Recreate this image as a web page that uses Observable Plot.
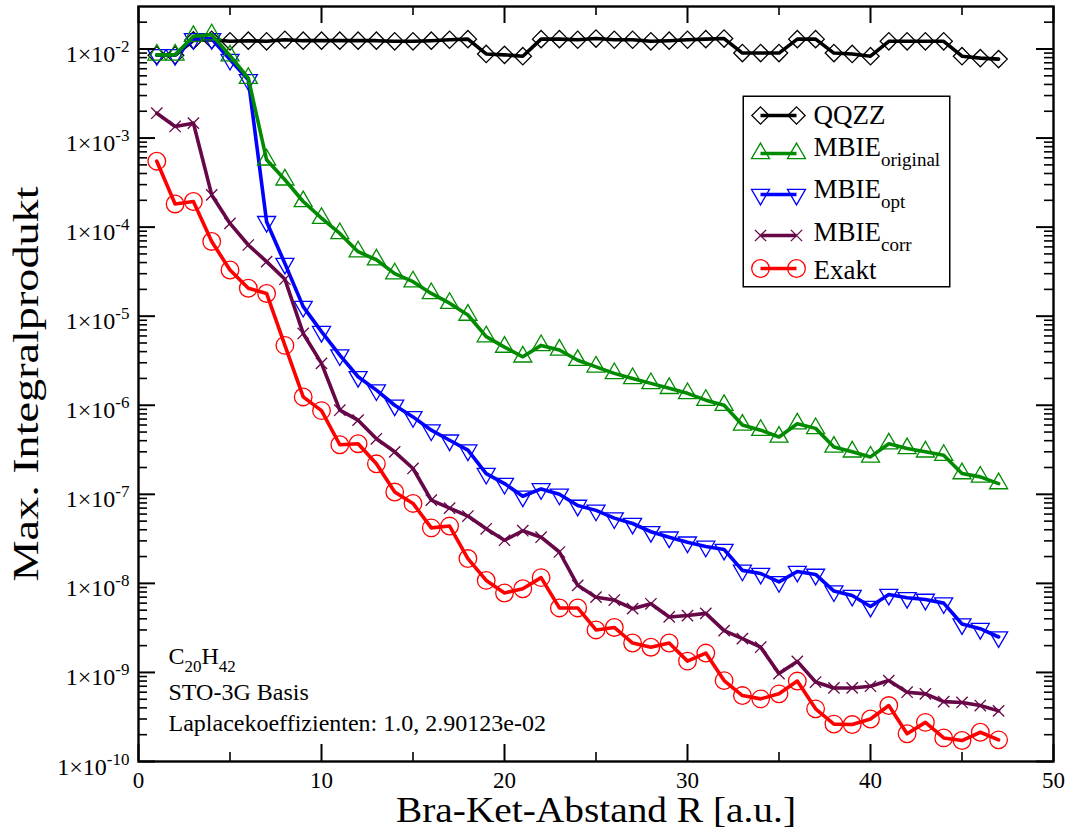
<!DOCTYPE html>
<html><head><meta charset="utf-8">
<script src="https://cdn.jsdelivr.net/npm/d3@7"></script>
<script src="https://cdn.jsdelivr.net/npm/@observablehq/plot@0.6"></script>
<style>
body{margin:0;background:#fff;}
#wrap{position:relative;width:1070px;height:833px;}
#legend{position:absolute;left:742px;top:95px;}
svg text{font-family:'Liberation Serif','Times New Roman',Times,serif !important;}
</style></head><body>
<div id="wrap"><div id="chart"></div><div id="legend"></div></div>
<script>
// ---------- data ----------
const R = d3.range(1, 48);
const qqzz = [0.0085,0.0085,0.0125,0.0127,0.0122,0.0124,0.0122,0.0127,0.0124,0.0124,
  0.0124,0.0124,0.0124,0.0122,0.0122,0.0124,0.0127,0.0129,0.0088,0.0086,
  0.0083,0.0129,0.0129,0.0127,0.0131,0.0127,0.0127,0.0122,0.0124,0.0127,
  0.0129,0.0131,0.0090,0.0090,0.0090,0.0129,0.0129,0.0090,0.0088,0.0083,
  0.0122,0.0122,0.0122,0.0122,0.0083,0.0079,0.0077];
const mbieOriginal = [0.0086,0.0086,0.0139,0.0145,0.0084,0.0047,5.7e-4,3.4e-4,1.94e-4,1.26e-4,
  8.5e-5,5.3e-5,4.3e-5,3.0e-5,2.44e-5,1.8e-5,1.4e-5,1.03e-5,5.9e-6,4.5e-6,
  3.5e-6,4.7e-6,4.17e-6,3.2e-6,2.7e-6,2.28e-6,2.0e-6,1.76e-6,1.55e-6,1.36e-6,
  1.14e-6,1.0e-6,6.0e-7,5.25e-7,4.4e-7,6.2e-7,5.5e-7,3.4e-7,3.0e-7,2.63e-7,
  3.7e-7,3.27e-7,3.0e-7,2.75e-7,1.71e-7,1.57e-7,1.32e-7];
const mbieOpt = [0.0086,0.0086,0.013,0.013,0.0076,0.0045,1.15e-4,3.9e-5,1.28e-5,6.7e-6,
  3.66e-6,2.09e-6,1.48e-6,1.0e-6,7.4e-7,5.25e-7,4.05e-7,3.13e-7,1.71e-7,1.32e-7,
  9.5e-8,1.15e-7,1.0e-7,7.5e-8,6.6e-8,5.4e-8,4.7e-8,3.8e-8,3.3e-8,2.9e-8,
  2.6e-8,2.4e-8,1.4e-8,1.29e-8,1.04e-8,1.36e-8,1.26e-8,8.2e-9,7.3e-9,5.5e-9,
  7.5e-9,6.9e-9,6.6e-9,6.0e-9,3.5e-9,3.1e-9,2.5e-9];
const mbieCorr = [1.9e-3,1.35e-3,1.47e-3,2.3e-4,1.1e-4,6.3e-5,4.1e-5,2.6e-5,6.4e-6,2.95e-6,
  8.8e-7,6.8e-7,4.2e-7,3.0e-7,1.95e-7,8.6e-8,7.0e-8,5.7e-8,4.1e-8,3.05e-8,
  3.9e-8,3.3e-8,2.25e-8,9.5e-9,7.0e-9,6.5e-9,5.2e-9,5.9e-9,4.2e-9,4.35e-9,
  4.6e-9,2.95e-9,2.4e-9,1.92e-9,9.7e-10,1.33e-9,7.8e-10,6.7e-10,6.7e-10,7.0e-10,
  8.1e-10,6.0e-10,5.75e-10,4.7e-10,4.6e-10,4.25e-10,3.7e-10];
const exakt = [5.5e-4,1.82e-4,1.94e-4,6.9e-5,3.3e-5,2.06e-5,1.8e-5,4.7e-6,1.24e-6,8.7e-7,
  3.6e-7,3.7e-7,2.2e-7,1.06e-7,7.9e-8,4.2e-8,4.4e-8,1.9e-8,1.08e-8,7.8e-9,
  8.7e-9,1.16e-8,5.3e-9,5.3e-9,3.0e-9,3.2e-9,2.14e-9,1.92e-9,2.14e-9,1.34e-9,
  1.65e-9,8.1e-10,5.5e-10,5.05e-10,5.75e-10,8.0e-10,3.9e-10,2.63e-10,2.6e-10,3.0e-10,
  4.25e-10,2.05e-10,2.75e-10,1.84e-10,1.72e-10,2.13e-10,1.75e-10];

const seriesKeys = ["QQZZ", "MBIE_original", "MBIE_opt", "MBIE_corr", "Exakt"];
const legendLabels = ["QQZZ", "MBIE_{original}", "MBIE_{opt}", "MBIE_{corr}", "Exakt"];
const xTicksMajor = [0, 10, 20, 30, 40, 50];
const xTicksMinor = [5, 15, 25, 35, 45];
const yDecades = [-10, -9, -8, -7, -6, -5, -4, -3, -2];
const xTitle = "Bra-Ket-Abstand R [a.u.]";
const yTitle = "Max. Integralprodukt";
const annotationLines = ["C_{20}H_{42}", "STO-3G Basis", "Laplacekoeffizienten: 1.0, 2.90123e-02"];

// ---------- styles ----------
const FONT = "'Liberation Serif','Times New Roman',Times,serif";
const W = 1070, H = 833, ML = 138, MR = 17, MT = 6, MB = 72;
const FW = W - ML - MR, FH = H - MT - MB;
const seriesStyle = {
  "QQZZ":          {color: "#000000", symbol: "diamond2",  r: 7.8, rotate: 0,   values: qqzz},
  "MBIE_original": {color: "#008b00", symbol: "triangle2", r: 8.6, rotate: 0,   values: mbieOriginal},
  "MBIE_opt":      {color: "#0000ff", symbol: "triangle2", r: 8.6, rotate: 180, values: mbieOpt},
  "MBIE_corr":     {color: "#670748", symbol: "times",     r: 5.2, rotate: 0,   values: mbieCorr},
  "Exakt":         {color: "#ff0000", symbol: "circle",    r: 8.8, rotate: 0,   values: exakt}
};
const drawOrder = ["QQZZ", "MBIE_opt", "MBIE_original", "MBIE_corr", "Exakt"];

const yMajor = yDecades.map(e => Math.pow(10, e));
const yMinor = yDecades.flatMap(e => d3.range(2, 10).map(k => k * Math.pow(10, e))).filter(v => v < 0.0299);

function seriesData(key) {
  return R.map((r, i) => ({R: r, v: seriesStyle[key].values[i], key}));
}

const seriesMarks = drawOrder.flatMap(key => {
  const s = seriesStyle[key];
  const data = seriesData(key);
  return [
    Plot.line(data, {x: "R", y: "v", stroke: s.color, strokeWidth: 3.6}),
    Plot.dot(data, {x: "R", y: "v", stroke: s.color, fill: "none", symbol: s.symbol, r: s.r, rotate: s.rotate, strokeWidth: 1.3})
  ];
});

const tickMarks = [
  Plot.tickX(xTicksMajor, {x: d => d, insetTop: FH - 17, strokeWidth: 2}),
  Plot.tickX(xTicksMinor, {x: d => d, insetTop: FH - 9, strokeWidth: 1.6}),
  Plot.tickX(xTicksMajor, {x: d => d, insetBottom: FH - 17, strokeWidth: 2}),
  Plot.tickX(xTicksMinor, {x: d => d, insetBottom: FH - 9, strokeWidth: 1.6}),
  Plot.tickY(yMajor, {y: d => d, insetRight: FW - 17, strokeWidth: 2}),
  Plot.tickY(yMinor, {y: d => d, insetRight: FW - 9, strokeWidth: 1.6}),
  Plot.tickY(yMajor, {y: d => d, insetLeft: FW - 17, strokeWidth: 2}),
  Plot.tickY(yMinor, {y: d => d, insetLeft: FW - 9, strokeWidth: 1.6})
];

const textMarks = [
  Plot.text(yMajor, {y: d => d, frameAnchor: "left", dx: -9, dy: 13, textAnchor: "end", lineAnchor: "bottom",
    fontSize: 24, text: d => `1×10^{${Math.round(Math.log10(d))}}`}),
  Plot.text(xTicksMajor, {x: d => d, frameAnchor: "bottom", dy: 26, lineAnchor: "bottom", fontSize: 23, text: d => String(d)}),
  Plot.text([xTitle], {text: d => d, frameAnchor: "bottom", dx: -200, dy: 60.7, textAnchor: "start", lineAnchor: "bottom", fontSize: 36}),
  Plot.text([yTitle], {text: d => d, frameAnchor: "left", dx: -101, dy: 197.5, rotate: -90, textAnchor: "start", lineAnchor: "bottom", fontSize: 36}),
  ...annotationLines.map((line, i) => Plot.text([line], {text: d => d, frameAnchor: "bottom-left", dx: 30,
    dy: [-98, -62, -31][i], textAnchor: "start", lineAnchor: "bottom", fontSize: 24}))
];

const chart = Plot.plot({
  width: W, height: H,
  marginLeft: ML, marginRight: MR, marginTop: MT, marginBottom: MB,
  style: {fontFamily: FONT, background: "white", color: "black", overflow: "visible"},
  x: {domain: [0, 50], axis: null},
  y: {type: "log", domain: [1e-10, 0.03], axis: null},
  marks: [
    ...seriesMarks,
    ...tickMarks,
    Plot.frame({stroke: "black", strokeWidth: 2.4}),
    ...textMarks
  ]
});

function richify(root, opts) {
  const ns = "http://www.w3.org/2000/svg";
  root.querySelectorAll("text").forEach(t => {
    t.setAttribute("font-family", FONT);
    const s = t.textContent;
    if (!/[\^_]\{/.test(s)) return;
    t.textContent = "";
    const re = /([\^_])\{([^}]*)\}/g;
    let last = 0, m, offset = 0;
    const add = (txt, dy, size) => {
      const ts = document.createElementNS(ns, "tspan");
      if (dy) ts.setAttribute("dy", dy);
      if (size) ts.setAttribute("font-size", size);
      ts.textContent = txt;
      t.appendChild(ts);
    };
    while ((m = re.exec(s))) {
      if (m.index > last) { add(s.slice(last, m.index), -offset, null); offset = 0; }
      const o = m[1] === "^" ? opts.sup : opts.sub;
      add(m[2], o.shift - offset, o.size);
      offset = o.shift;
      last = re.lastIndex;
    }
    if (last < s.length) add(s.slice(last), -offset, null);
  });
}
richify(chart, {sup: {size: 17, shift: -10}, sub: {size: 17, shift: 8}});
chart.querySelectorAll("text").forEach(t => {
  if (t.textContent === xTitle) { t.setAttribute("textLength", 400); t.setAttribute("lengthAdjust", "spacingAndGlyphs"); }
  if (t.textContent === yTitle) { t.setAttribute("textLength", 395); t.setAttribute("lengthAdjust", "spacingAndGlyphs"); }
});
document.getElementById("chart").appendChild(chart);

// ---------- legend ----------
const legendLineY = [20, 58, 99, 140, 173];
const legendTextY = [28, 60, 102, 145, 183];
const legendRows = seriesKeys.map((key, i) => ({key, label: legendLabels[i], ly: legendLineY[i], ty: legendTextY[i]}));
const legendMarks = legendRows.flatMap(row => {
  const s = seriesStyle[row.key];
  return [
    Plot.link([row], {x1: 18, x2: 54, y1: "ly", y2: "ly", stroke: s.color, strokeWidth: 3.6}),
    Plot.dot([row, row], {x: (d, i) => (i === 0 ? 18 : 54), y: "ly", stroke: s.color, fill: "none", symbol: s.symbol, r: s.r, rotate: s.rotate, strokeWidth: 1.3}),
    Plot.text([row], {x: 71, y: "ty", text: "label", textAnchor: "start", lineAnchor: "bottom", fontSize: 27})
  ];
});
const legend = Plot.plot({
  width: 208, height: 192, margin: 0,
  style: {fontFamily: FONT, background: "white", color: "black", overflow: "visible"},
  x: {type: "identity", axis: null},
  y: {type: "identity", axis: null},
  marks: [Plot.frame({stroke: "black", strokeWidth: 1.5, inset: 0.75}), ...legendMarks]
});
richify(legend, {sup: {size: 19, shift: -10}, sub: {size: 19, shift: 10}});
document.getElementById("legend").appendChild(legend);
</script></body></html>
